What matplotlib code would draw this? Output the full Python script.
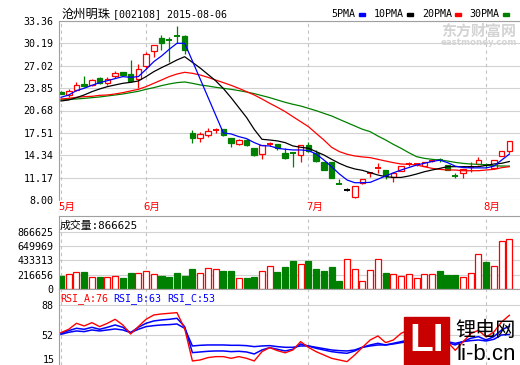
import matplotlib
matplotlib.use("Agg")
import matplotlib.pyplot as plt
from matplotlib.patches import Rectangle
from matplotlib.transforms import blended_transform_factory
import numpy as np

# ---- data (59 trading days, mid May .. 2015-08-06) ----
opens = [23.3, 22.9, 23.6, 24.4, 24.25, 25.25, 24.6, 25.5, 26.1, 25.85, 25.2, 27.0, 29.1, 30.95, 30.65, 31.25, 31.2,
         17.5, 16.85, 17.2, 17.85, 18.0, 16.8, 16.0, 16.5, 15.3,
         14.5, 15.95, 15.9, 14.7, 14.72, 14.4, 15.75, 14.6, 13.35, 13.35, 10.3, 9.35, 8.45,
         10.4, 11.85, 12.45, 12.25, 11.3, 12.1, 13.05, 13.0, 12.85, 13.5, 13.7, 12.95, 11.42, 11.8, 12.7, 13.05, 12.98, 12.6, 14.3, 15.0]
highs = [23.4, 23.7, 24.7, 25.5, 25.2, 25.4, 25.45, 26.3, 26.2, 27.8, 27.2, 29.0, 29.95, 31.4, 31.1, 32.65, 31.4,
         17.9, 17.65, 18.15, 18.15, 18.05, 16.8, 16.65, 16.6, 15.4,
         15.8, 16.15, 15.95, 15.35, 14.75, 15.8, 16.27, 15.1, 13.4, 13.4, 10.95, 9.66, 10.0,
         10.97, 11.95, 13.2, 12.3, 12.0, 12.85, 13.35, 13.3, 13.45, 13.75, 13.95, 13.0, 11.78, 12.4, 13.43, 14.05, 13.3, 13.7, 14.95, 16.4]
lows = [22.95, 22.6, 23.5, 24.0, 24.2, 24.5, 24.35, 25.3, 25.6, 24.75, 23.9, 26.5, 28.2, 29.3, 27.6, 30.2, 28.7,
        16.1, 16.25, 16.9, 17.55, 17.0, 15.55, 15.75, 15.7, 14.3,
        13.8, 15.7, 15.05, 13.75, 12.64, 13.44, 14.8, 13.45, 12.2, 11.1, 10.25, 9.33, 8.3,
        10.3, 11.3, 11.87, 11.0, 10.6, 12.05, 12.8, 12.85, 12.8, 13.4, 13.4, 12.2, 11.07, 11.07, 12.0, 13.0, 12.6, 12.55, 14.25, 14.6]
closes = [23.05, 23.5, 24.3, 24.2, 24.95, 24.6, 25.1, 26.0, 25.75, 24.9, 26.5, 28.7, 29.9, 30.3, 30.6, 31.2, 29.3,
          16.85, 17.3, 17.8, 17.95, 17.2, 16.1, 16.5, 15.85, 14.35,
          15.75, 16.05, 15.35, 14.0, 14.68, 15.75, 14.9, 13.55, 12.25, 11.15, 10.27, 9.35, 9.95,
          10.93, 11.9, 12.55, 11.45, 11.87, 12.82, 13.15, 13.1, 13.4, 13.55, 13.65, 12.25, 11.38, 12.35, 12.75, 13.65, 12.94, 13.65, 14.9, 16.35]

ma5 = [22.55, 22.88, 23.5, 23.83, 24.25, 24.63, 24.9, 25.2, 25.48, 25.38, 25.48, 26.5, 27.6, 28.4, 29.35, 30.2, 30.2,
       27.7, 25.15, 22.6, 20.05, 17.5,
       17.36, 16.98, 16.7, 16.13, 15.7, 15.66, 15.33, 15.19, 15.09, 15.09, 15.0, 14.53, 13.68, 12.73, 11.7, 10.84, 10.45, 10.45,
       10.5, 10.95, 11.4, 11.85, 12.25, 12.6, 12.95, 13.2, 13.45, 13.65, 13.3, 12.8, 12.6, 12.55, 12.55, 12.55, 12.8, 13.65, 14.5]
ma10 = [22.03, 22.17, 22.5, 22.88, 23.35, 23.73, 24.06, 24.3, 24.53, 24.67, 24.86, 25.48, 26.18, 26.75, 27.27, 27.84, 28.3,
        27.5, 26.7, 25.8,
        24.9, 23.8, 22.5, 21.1, 19.7, 18.0, 16.6, 16.5, 16.37, 16.13, 15.66, 15.47, 15.33, 14.86, 14.38, 13.77, 13.2, 12.73, 12.4, 12.2,
        11.87, 11.54, 11.3, 11.2, 11.2, 11.4, 11.68, 12.0, 12.25, 12.48, 12.72, 12.72, 12.72, 12.72, 12.72, 12.9, 13.1, 13.2, 13.45]
ma20 = [22.31, 22.4, 22.55, 22.64, 22.69, 22.83, 22.88, 23.02, 23.21, 23.45, 23.68, 24.06, 24.53, 25.0, 25.48, 25.85, 26.09,
        25.95, 25.71, 25.38,
        25.0, 24.63, 24.25, 23.82, 23.35, 22.88, 22.31, 21.7, 21.13, 20.52, 19.81, 19.1, 18.4, 17.45, 16.51, 15.47, 14.86, 14.48, 14.24, 14.1,
        14.0, 13.76, 13.52, 13.29, 13.1, 13.05, 12.96, 12.72, 12.48, 12.34, 12.25, 12.25, 12.15, 12.15, 12.15, 12.25, 12.34, 12.58, 12.72]
ma30 = [22.17, 22.27, 22.31, 22.4, 22.5, 22.6, 22.74, 22.88, 23.02, 23.21, 23.4, 23.68, 23.92, 24.2, 24.44, 24.63, 24.72,
        24.53, 24.3, 24.15,
        23.97, 23.82, 23.68, 23.5, 23.3, 23.07, 22.79, 22.5, 22.17, 21.84, 21.56, 21.32, 20.99, 20.66, 20.28, 19.91, 19.43, 18.96, 18.49, 18.02,
        17.68, 17.06, 16.5, 15.88, 15.32, 14.7, 14.14, 13.9, 13.76, 13.66, 13.52, 13.33, 13.19, 13.1, 13.05, 12.96, 12.86, 12.81, 12.81]

volume = [200, 230, 260, 260, 180, 185, 190, 200, 170, 245, 245, 270, 230, 200, 185, 245, 200, 305, 245, 315, 300, 275,
          275, 170, 170, 185, 275, 350, 260, 335, 425, 380, 425, 305, 275, 335, 125, 450, 305, 125, 290, 450, 245, 230,
          200, 230, 170, 230, 230, 275, 215, 215, 185, 245, 530, 410, 350, 735, 765]
volume = [v * 1000 for v in volume]

rsi_a = [55.2, 59.2, 66.4, 63.2, 67.2, 62.4, 66.4, 71.2, 64.4, 53.6, 62.4, 71.2, 76.4, 77.6, 78.4, 79.2, 60.0,
         21.2, 22.4, 25.2, 26.4, 26.4, 24.4, 26.4, 24.4, 21.2, 32.4, 37.2, 33.6, 31.0,
         34.4, 44.4, 37.6, 32.4, 28.4, 24.4, 22.4, 20.4, 28.4, 37.6, 46.4, 51.2, 43.2, 46.4, 54.4,
         58.4, 56.4, 60.0, 62.0, 56.0, 44.0, 34.0, 44.0, 54.0, 58.0, 50.0, 56.0, 68.0, 76.0]
rsi_b = [54.4, 57.6, 60.4, 59.2, 61.6, 59.2, 61.6, 64.4, 61.6, 55.2, 61.6, 66.4, 69.2, 70.4, 71.2, 72.4, 62.4,
         31.2, 32.0, 32.8, 33.2, 33.2, 32.4, 32.8, 32.0, 29.6, 34.4, 37.2, 35.2, 33.2,
         35.2, 41.6, 39.2, 36.4, 34.4, 32.4, 31.2, 30.4, 33.2, 37.6, 40.4, 42.4, 40.4, 42.4, 44.4,
         46.4, 46.4, 46.4, 47.2, 46.4, 43.2, 40.4, 44.4, 48.4, 50.4, 46.4, 50.4, 58.4, 63.0]
rsi_c = [53.2, 55.6, 57.2, 56.4, 58.4, 57.2, 58.4, 59.6, 58.4, 55.2, 59.2, 62.4, 63.6, 64.4, 64.8, 65.6, 60.4,
         39.2, 40.0, 40.4, 40.4, 40.4, 40.0, 40.0, 39.6, 38.4, 39.2, 39.6, 38.4, 37.6,
         37.6, 39.2, 39.2, 37.6, 36.0, 34.4, 33.6, 33.2, 34.4, 37.6, 39.2, 40.4, 40.4, 41.6, 43.2,
         44.4, 45.6, 46.4, 46.4, 45.6, 44.4, 42.4, 44.4, 45.6, 46.4, 45.2, 47.2, 52.4, 53.0]

price_ticks = [8.00, 11.17, 14.34, 17.51, 20.68, 23.85, 27.02, 30.19, 33.36]
vol_ticks = [0, 216656, 433313, 649969, 866625]
rsi_ticks = [52, 88]
month_idx = [0, 11, 32, 55]
month_labels = ["5月", "6月", "7月", "8月"]
stock_name = "沧州明珠"
stock_code = "[002108] 2015-08-06"

# ---- styling ----
W, H = 520, 365
RED, GREEN, BLUE = "#ff0000", "#008000", "#0000ff"
GRID, SPINE, DASH = "#d2d2d2", "#a0a0a0", "#c4c4c4"
MONO = ["DejaVu Sans Mono", "Noto Sans CJK SC"]
FS = 7.2  # 10 px

fig = plt.figure(figsize=(5.2, 3.65), dpi=100)
fig.patch.set_facecolor("white")


def px_axes(left, top, right, bottom):
    return fig.add_axes([left / W, 1 - bottom / H, (right - left) / W, (bottom - top) / H])


def fx(x):
    return x / W


def fy(y):
    return 1 - y / H


ax_p = px_axes(59, 21, 520, 200)
ax_v = px_axes(59, 216, 520, 289)
ax_r = px_axes(59, 289, 520, 365)

idx = np.arange(len(closes))
o = np.array(opens)
c = np.array(closes)
hi = np.array(highs)
lo = np.array(lows)
step = 7.73
xlim = (-(61 - 59) / step, (520 - 61) / step)

for ax in (ax_p, ax_v, ax_r):
    ax.set_xlim(*xlim)
    ax.set_xticks([])
    ax.tick_params(axis="y", length=0, pad=4, labelsize=FS)
    ax.spines["right"].set_visible(False)
    for s in ("left", "top", "bottom"):
        ax.spines[s].set_color(SPINE)
        ax.spines[s].set_linewidth(0.8)
    ax.yaxis.grid(True, color=GRID, lw=0.8)
    ax.set_axisbelow(True)
    for m in month_idx:
        ax.axvline(m, color=DASH, lw=0.8, ls=(0, (3, 3)), zorder=1)

# ---- price panel ----
ax_p.set_ylim(price_ticks[0], price_ticks[-1])
ax_p.set_yticks(price_ticks)
ax_p.set_yticklabels(["%.2f" % t for t in price_ticks], family=MONO)
ax_p.spines["bottom"].set_visible(False)

body_lo = np.minimum(o, c)
body_hi = np.maximum(o, c)
cols = np.where(c > o, RED, np.where(c < o, GREEN, "black"))
is_doji = (body_hi - body_lo) < 0.12
reg = ~is_doji

ax_p.vlines(idx, lo, body_lo, colors=cols, lw=0.9, zorder=2)
ax_p.vlines(idx, body_hi, hi, colors=cols, lw=0.9, zorder=2)
ax_p.bar(idx[reg], (body_hi - body_lo)[reg], bottom=body_lo[reg], width=0.72,
         color=np.where(c[reg] > o[reg], "white", GREEN), edgecolor=cols[reg], lw=0.9, zorder=2)
ax_p.hlines(((o + c) / 2)[is_doji], idx[is_doji] - 0.38, idx[is_doji] + 0.38,
            colors=cols[is_doji], lw=1.4, zorder=2)

ax_p.plot(idx, ma30, color=GREEN, lw=0.9, zorder=3)
ax_p.plot(idx, ma20, color=RED, lw=0.9, zorder=3)
ax_p.plot(idx, ma10, color="black", lw=0.9, zorder=3)
ax_p.plot(idx, ma5, color=BLUE, lw=0.9, zorder=3)

tr = blended_transform_factory(ax_p.transData, ax_p.transAxes)
for m, lab in zip(month_idx, month_labels):
    ax_p.text(m - 0.3, -7 / 179, lab, transform=tr, color=RED, fontsize=7.6,
              family=MONO, ha="left", va="center")

# ---- volume panel ----
vol_top = vol_ticks[-1] * 73 / 57
ax_v.set_ylim(0, vol_top)
ax_v.set_yticks(vol_ticks)
ax_v.set_yticklabels([str(t) for t in vol_ticks], family=MONO)
up = c >= o
ax_v.bar(idx, volume, width=0.78, color=np.where(up, "white", GREEN),
         edgecolor=np.where(up, RED, GREEN), lw=0.9, zorder=2)
ax_v.text(1 / 461, 1 - 10 / 73, "成交量:%d" % vol_ticks[-1], transform=ax_v.transAxes,
          fontsize=7.8, family=MONO, ha="left", va="center")

# ---- RSI panel ----
ppu = 30 / 36
ax_r.set_ylim(52 - (365 - 335.3) / ppu, 88 + (305.3 - 289) / ppu)
ax_r.set_yticks(rsi_ticks)
ax_r.set_yticklabels([str(t) for t in rsi_ticks], family=MONO)
ax_r.spines["bottom"].set_visible(False)
ax_r.plot(idx, rsi_c, color=BLUE, lw=1.1, zorder=3)
ax_r.plot(idx, rsi_b, color=BLUE, lw=1.1, zorder=3)
ax_r.plot(idx, rsi_a, color=RED, lw=1.0, zorder=3)
fig.text(fx(55), fy(360), "15", ha="right", va="center", fontsize=FS, family=MONO)

rsi_head = [("RSI_A:%d" % round(rsi_a[-1]), RED, 60),
            ("RSI_B:%d" % round(rsi_b[-1]), BLUE, 113),
            ("RSI_C:%d" % round(rsi_c[-1]), BLUE, 167)]
for txt, col, x in rsi_head:
    fig.text(fx(x), fy(299), txt, color=col, fontsize=FS, family=MONO, va="center")

# ---- header: title and MA legend ----
fig.text(fx(61), fy(14), stock_name, fontsize=8.8, family="Noto Sans CJK SC", va="center")
fig.text(fx(113), fy(14), stock_code, fontsize=FS, family=MONO, va="center")
legend = [("5PMA", BLUE, 331, 359), ("10PMA", "black", 374, 407),
          ("20PMA", RED, 422, 455), ("30PMA", GREEN, 469, 503)]
for txt, col, tx, bx in legend:
    fig.text(fx(tx), fy(14), txt, fontsize=FS, family=MONO, va="center")
    fig.patches.append(Rectangle((fx(bx), fy(15.5)), 6 / W, 3 / H, color=col,
                                 transform=fig.transFigure, zorder=5))

# ---- watermarks ----
fig.text(fx(479), fy(31), "东方财富网", color="#d4d4d4", fontsize=10.8, weight="bold",
         family="Noto Sans CJK SC", ha="center", va="center", zorder=0.5)
fig.text(fx(479), fy(42.5), "eastmoney.com", color="#d4d4d4", fontsize=6.2, weight="bold",
         family="DejaVu Sans", ha="center", va="center", zorder=0.5)

fig.patches.append(Rectangle((fx(404), fy(365)), 45 / W, 48 / H, color="#c80000",
                             transform=fig.transFigure, zorder=6))
fig.text(fx(426.5), fy(341), "LI", color="white", fontsize=28, weight="bold",
         family="Liberation Sans", ha="center", va="center", zorder=7)
fig.text(fx(486), fy(331), "锂电网", color="black", fontsize=14.5,
         family="Noto Sans CJK SC", ha="center", va="center", zorder=7)
fig.text(fx(486), fy(355), "li-b.cn", color="black", fontsize=16,
         family="Liberation Sans", ha="center", va="center", zorder=7)

fig.savefig("out.png", dpi=100)
